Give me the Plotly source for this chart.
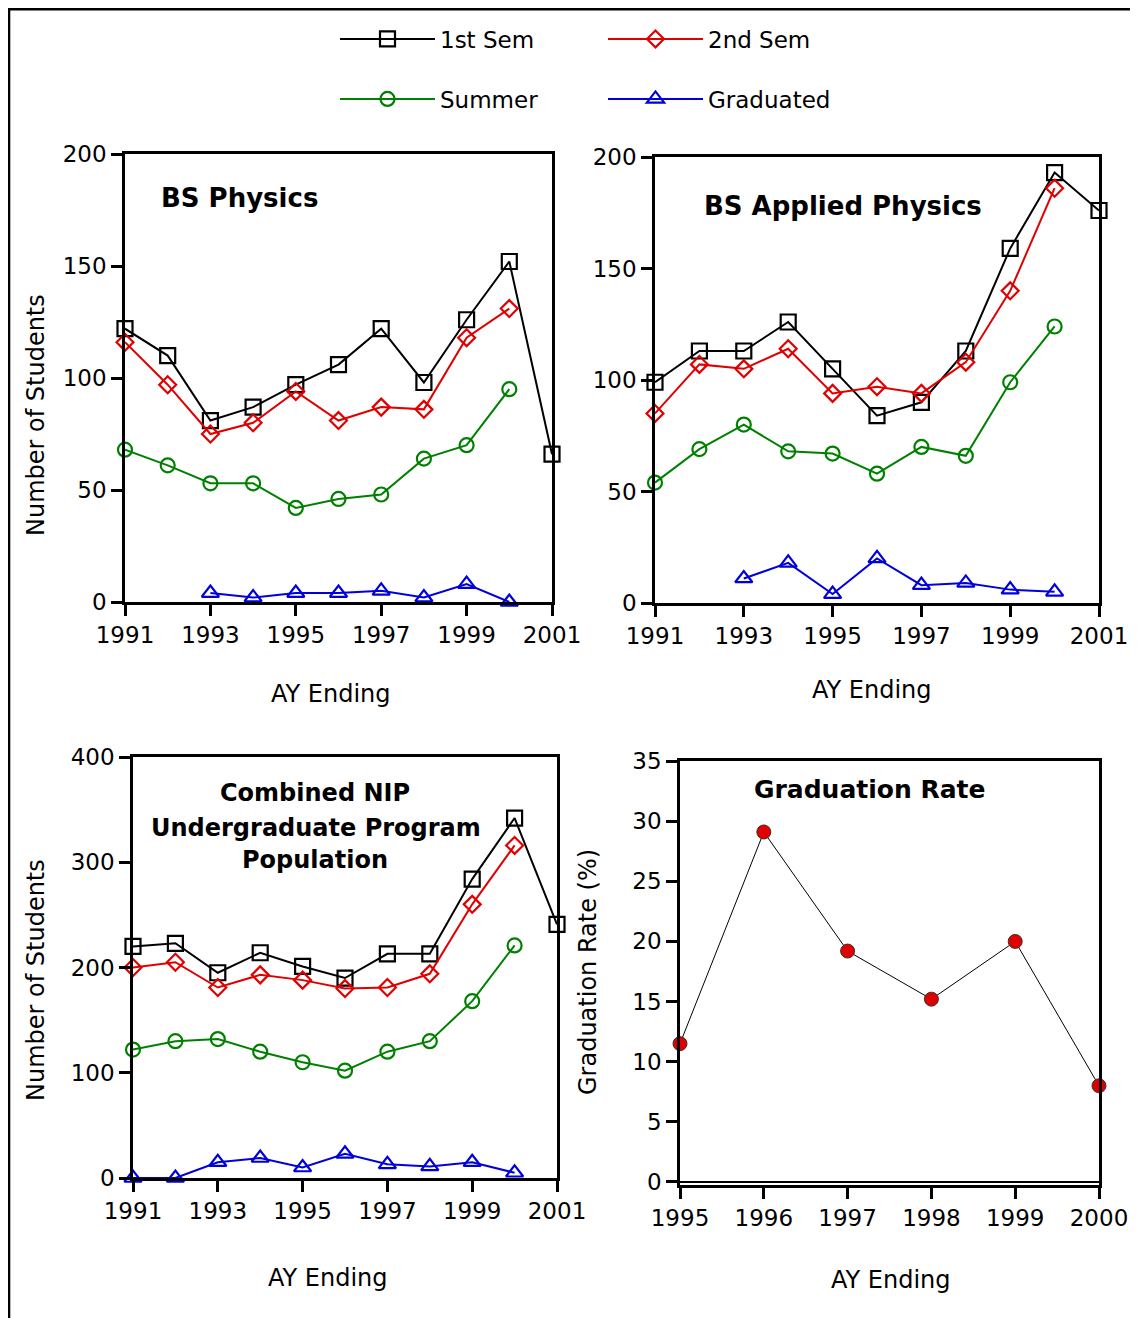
import plotly.graph_objects as go

# page is rendered with an 8px body margin, so the figure is offset by 8px
OX, OY = 8, 8
W, H = 1138 - OX, 1318 - OY

years = [1991, 1992, 1993, 1994, 1995, 1996, 1997, 1998, 1999, 2000, 2001]
years_sem2 = years[:10]
years_grad = [1993, 1994, 1995, 1996, 1997, 1998, 1999, 2000]
years_grad_all = years[:10]

# BS Physics
phys_1st = [122, 110, 81, 87, 97, 106, 122, 98, 126, 152, 66]
phys_2nd = [116, 97, 75, 80, 94, 81, 87, 86, 118, 131]
phys_summer = [68, 61, 53, 53, 42, 46, 48, 64, 70, 95]
phys_grad = [4, 2, 4, 4, 5, 2, 8, 0]

# BS Applied Physics
app_1st = [99, 113, 113, 126, 105, 84, 90, 113, 159, 193, 176]
app_2nd = [85, 107, 105, 114, 94, 97, 94, 108, 140, 186]
app_summer = [54, 69, 80, 68, 67, 58, 70, 66, 99, 124]
app_grad = [11, 18, 4, 20, 8, 9, 6, 5]

# Combined NIP
comb_1st = [220, 223, 195, 214, 201, 190, 213, 213, 284, 342, 241]
comb_2nd = [200, 205, 181, 193, 188, 180, 181, 194, 260, 316]
comb_summer = [122, 130, 132, 120, 110, 102, 120, 130, 168, 221]
comb_grad = [0, 0, 15, 19, 10, 23, 13, 11, 15, 5]

# Graduation rate
rate_years = [1995, 1996, 1997, 1998, 1999, 2000]
rate_values = [11.5, 29.1, 19.2, 15.2, 20.0, 8.0]

series_names = ["1st Sem", "2nd Sem", "Summer", "Graduated"]
colors = ["#000000", "#e00000", "#008000", "#0000dd"]
symbols = ["square-open", "diamond-open", "circle-open", "triangle-up-open"]
msizes = [15, 13, 14, 15]

FONT = "DejaVu Sans"

fig = go.Figure()

panels = [
    (years, phys_1st, years_sem2, phys_2nd, years_sem2, phys_summer, years_grad, phys_grad),
    (years, app_1st, years_sem2, app_2nd, years_sem2, app_summer, years_grad, app_grad),
    (years, comb_1st, years_sem2, comb_2nd, years_sem2, comb_summer, years_grad_all, comb_grad),
]
axis_ids = [("x", "y"), ("x2", "y2"), ("x3", "y3")]

for pi, (p, (xa, ya)) in enumerate(zip(panels, axis_ids)):
    xs = [p[0], p[2], p[4], p[6]]
    ys = [p[1], p[3], p[5], p[7]]
    for si in range(4):
        showleg = pi == 0
        fig.add_trace(go.Scatter(
            x=xs[si], y=ys[si], mode="lines+markers", name=series_names[si],
            xaxis=xa, yaxis=ya, cliponaxis=False,
            line=dict(color=colors[si], width=2),
            marker=dict(symbol=symbols[si], size=msizes[si], color=colors[si],
                        line=dict(width=2.2, color=colors[si])),
            showlegend=showleg,
            legend="legend" if si < 2 else "legend2",
        ))

fig.add_trace(go.Scatter(
    x=rate_years, y=rate_values, mode="lines+markers", xaxis="x4", yaxis="y4",
    cliponaxis=False, showlegend=False, name="Graduation Rate",
    line=dict(color="#000000", width=1),
    marker=dict(symbol="circle", size=14, color="#e00000", line=dict(width=1, color="#333333")),
))


def px(x):
    return (x - OX) / W


def py(y):
    return 1 - (y - OY) / H


def dx(a, b):
    return [px(a), px(b)]


def dy(top, bottom):
    return [py(bottom), py(top)]


common_axis = dict(showline=True, linecolor="black", linewidth=2.5, mirror=True,
                   ticks="outside", ticklen=11, tickwidth=2.5, tickcolor="black",
                   showgrid=False, zeroline=False, automargin=False,
                   tickfont=dict(family=FONT, size=23, color="black"))

layout = dict(
    template="none",
    width=W, height=H, margin=dict(l=0, r=0, t=0, b=0, pad=0, autoexpand=False),
    paper_bgcolor="white", plot_bgcolor="white",
    font=dict(family=FONT, color="black"),
)

xdoms = [dx(125, 552), dx(655, 1099), dx(133, 557), dx(680, 1099)]
ydoms = [dy(154, 602), dy(157, 603), dy(757, 1178), dy(761, 1185)]

for i in range(3):
    k = "" if i == 0 else str(i + 1)
    layout["xaxis" + k] = dict(common_axis, domain=xdoms[i], range=[1991, 2001],
                               tickvals=[1991, 1993, 1995, 1997, 1999, 2001],
                               anchor="y" + k)
    ymax = 400 if i == 2 else 200
    dt = 100 if i == 2 else 50
    layout["yaxis" + k] = dict(common_axis, domain=ydoms[i], range=[0, ymax],
                               tickvals=list(range(0, ymax + 1, dt)),
                               anchor="x" + k)

layout["xaxis4"] = dict(common_axis, domain=xdoms[3], range=[1995, 2000],
                        tickvals=rate_years, anchor="y4")
layout["yaxis4"] = dict(common_axis, domain=ydoms[3], range=[-0.25, 35],
                        tickvals=list(range(0, 36, 5)), anchor="x4",
                        zeroline=True, zerolinecolor="black", zerolinewidth=2)

leg_common = dict(orientation="h", xanchor="left", yanchor="middle",
                  entrywidth=158, itemwidth=95,
                  font=dict(family=FONT, size=23, color="black"),
                  bgcolor="rgba(0,0,0,0)", borderwidth=0)
layout["legend"] = dict(leg_common, x=px(335), y=py(39))
layout["legend2"] = dict(leg_common, x=px(335), y=py(99))

fig.update_layout(**layout)

ann = []


def add_text(text, x, y, size, bold=False, angle=0):
    ann.append(dict(text=f"<b>{text}</b>" if bold else text, x=px(x), y=py(y),
                    xref="paper", yref="paper", showarrow=False, textangle=angle,
                    xanchor="center", yanchor="middle",
                    font=dict(family=FONT, size=size, color="black")))


add_text("BS Physics", 239, 198, 26, bold=True)
add_text("BS Applied Physics", 843, 206, 26, bold=True)
add_text("Combined NIP", 315, 793, 24, bold=True)
add_text("Undergraduate Program", 316, 828, 24, bold=True)
add_text("Population", 315, 860, 24, bold=True)
add_text("Graduation Rate", 870, 790, 25, bold=True)

add_text("AY Ending", 331, 694, 24)
add_text("AY Ending", 872, 690, 24)
add_text("AY Ending", 328, 1278, 24)
add_text("AY Ending", 891, 1280, 24)
add_text("Number of Students", 36, 415, 24, angle=-90)
add_text("Number of Students", 36, 980, 24, angle=-90)
add_text("Graduation Rate (%)", 588, 972, 24, angle=-90)

fig.update_layout(annotations=ann)

fig.add_shape(type="line", xref="paper", yref="paper", x0=0, x1=1.0, y0=py(9), y1=py(9),
              line=dict(color="black", width=3))
fig.add_shape(type="line", xref="paper", yref="paper", x0=0.0007, x1=0.0007, y0=0, y1=py(9),
              line=dict(color="black", width=3))

fig.write_html("out.html")
